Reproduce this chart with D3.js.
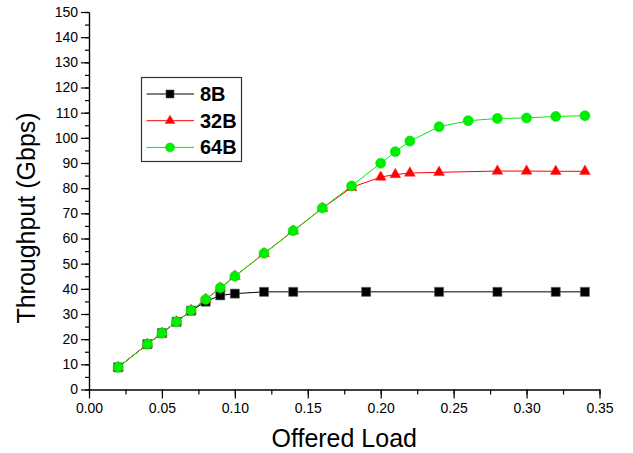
<!DOCTYPE html>
<html>
<head>
<meta charset="utf-8">
<title>Throughput vs Offered Load</title>
<script src="https://d3js.org/d3.v7.min.js"></script>
<style>
  body { margin: 0; padding: 0; background: #fff; }
  svg { display: block; font-family: "Liberation Sans", Arial, sans-serif; }
  .axis text { font-size: 14px; fill: #000; }
  .axis path, .axis line { stroke: #000; stroke-width: 1.2px; }
</style>
</head>
<body>
<svg width="633" height="453"></svg>
<script>
// data
var load8 = [0.02, 0.04, 0.05, 0.06, 0.07, 0.08, 0.09, 0.10, 0.12, 0.14, 0.19, 0.24, 0.28, 0.32, 0.34];
var tp8   = [8.8, 18.0, 22.4, 26.9, 31.3, 34.9, 37.4, 38.1, 38.8, 38.8, 38.8, 38.8, 38.8, 38.8, 38.8];

var load32 = [0.02, 0.04, 0.05, 0.06, 0.07, 0.08, 0.09, 0.10, 0.12, 0.14, 0.16, 0.18, 0.20, 0.21, 0.22, 0.24, 0.28, 0.30, 0.32, 0.34];
var tp32   = [8.8, 18.0, 22.4, 26.9, 31.4, 35.8, 40.3, 45.0, 54.0, 63.0, 72.0, 80.3, 84.4, 85.4, 86.0, 86.3, 86.8, 86.8, 86.7, 86.7];

var load64 = [0.02, 0.04, 0.05, 0.06, 0.07, 0.08, 0.09, 0.10, 0.12, 0.14, 0.16, 0.18, 0.20, 0.21, 0.22, 0.24, 0.26, 0.28, 0.30, 0.32, 0.34];
var tp64   = [8.8, 18.0, 22.4, 26.9, 31.4, 35.8, 40.4, 45.0, 54.1, 63.1, 72.1, 80.9, 89.9, 94.5, 98.7, 104.4, 106.8, 107.7, 107.9, 108.5, 108.8];

var seriesNames = ['8B', '32B', '64B'];
var xTicks = [0, 0.05, 0.10, 0.15, 0.20, 0.25, 0.30, 0.35];
var yTicks = [0, 10, 20, 30, 40, 50, 60, 70, 80, 90, 100, 110, 120, 130, 140, 150];

var svg = d3.select('svg');
var plotLeft = 89, plotRight = 599.5, plotTop = 12, plotBottom = 389.5;

var x = d3.scaleLinear().domain([0, 0.35]).range([plotLeft, plotRight]);
var y = d3.scaleLinear().domain([0, 150]).range([plotBottom, plotTop]);

// minor ticks
var xMinor = d3.range(0, 0.351, 0.025);
var yMinor = d3.range(0, 151, 5);

svg.append('g')
    .attr('class', 'axis')
    .attr('transform', 'translate(0,' + plotBottom + ')')
    .call(d3.axisBottom(x).tickValues(xMinor).tickSize(5).tickSizeOuter(0).tickFormat(''));
svg.append('g')
    .attr('class', 'axis')
    .attr('transform', 'translate(0,' + plotBottom + ')')
    .call(d3.axisBottom(x).tickValues(xTicks).tickSize(9).tickSizeOuter(0).tickPadding(5).tickFormat(d3.format('.2f')));

svg.append('g')
    .attr('class', 'axis')
    .attr('transform', 'translate(' + plotLeft + ',0)')
    .call(d3.axisLeft(y).tickValues(yMinor).tickSize(4).tickSizeOuter(0).tickFormat(''));
svg.append('g')
    .attr('class', 'axis')
    .attr('transform', 'translate(' + plotLeft + ',0)')
    .call(d3.axisLeft(y).tickValues(yTicks).tickSize(8).tickSizeOuter(0).tickPadding(3));

// axis titles
svg.append('text')
    .attr('x', (plotLeft + plotRight) / 2)
    .attr('y', 447)
    .attr('text-anchor', 'middle')
    .style('font-size', '25px')
    .text('Offered Load');

svg.append('text')
    .attr('transform', 'translate(35,218) rotate(-90)')
    .attr('text-anchor', 'middle')
    .style('font-size', '25px')
    .text('Throughput (Gbps)');

var series = [
    { name: seriesNames[0], xs: load8,  ys: tp8,  color: '#000000', stroke: '#555', shape: d3.symbolSquare,   size: 81 },
    { name: seriesNames[1], xs: load32, ys: tp32, color: '#ff0000', stroke: '#ff3030', shape: d3.symbolTriangle, size: 50 },
    { name: seriesNames[2], xs: load64, ys: tp64, color: '#00ee00', stroke: '#00dd00', shape: d3.symbolCircle,   size: 78 }
];

var line = d3.line()
    .x(function(d) { return x(d[0]); })
    .y(function(d) { return y(d[1]); });

series.forEach(function(s) {
    var pts = s.xs.map(function(v, i) { return [v, s.ys[i]]; });
    svg.append('path')
        .datum(pts)
        .attr('fill', 'none')
        .attr('stroke', s.color)
        .attr('stroke-width', 1)
        .attr('d', line);
    svg.selectAll(null)
        .data(pts)
        .enter().append('path')
        .attr('transform', function(d) { return 'translate(' + x(d[0]) + ',' + y(d[1]) + ')'; })
        .attr('d', d3.symbol().type(s.shape).size(s.size))
        .attr('fill', s.color)
        .attr('stroke', s.stroke)
        .attr('stroke-width', 0.6);
});

// legend
var legend = svg.append('g');
legend.append('rect')
    .attr('x', 141.5).attr('y', 77.5)
    .attr('width', 100).attr('height', 84)
    .attr('fill', '#fff')
    .attr('stroke', '#333')
    .attr('stroke-width', 1.2);

series.forEach(function(s, i) {
    var ly = 94 + i * 26.7;
    legend.append('line')
        .attr('x1', 146.5).attr('x2', 194)
        .attr('y1', ly).attr('y2', ly)
        .attr('stroke', s.color)
        .attr('stroke-width', 1);
    legend.append('path')
        .attr('transform', 'translate(170,' + ly + ')')
        .attr('d', d3.symbol().type(s.shape).size(s.size * 0.8))
        .attr('fill', s.color)
        .attr('stroke', s.stroke)
        .attr('stroke-width', 0.6);
    legend.append('text')
        .attr('x', 200)
        .attr('y', ly + 7)
        .style('font-size', '20px')
        .style('font-weight', 'bold')
        .text(s.name);
});
</script>
</body>
</html>
